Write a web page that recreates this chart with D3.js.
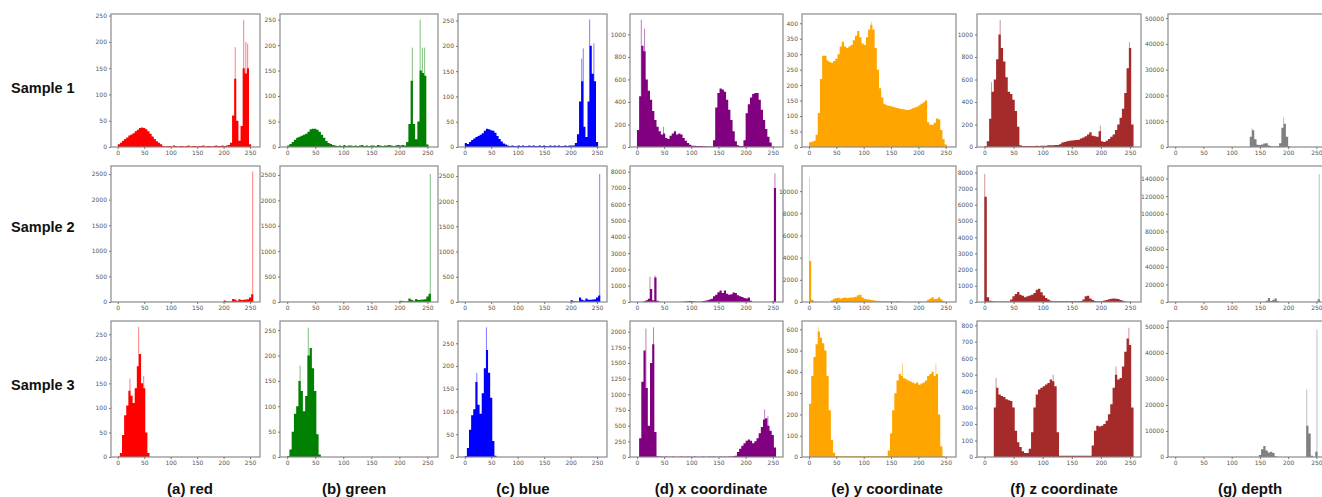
<!DOCTYPE html>
<html>
<head>
<meta charset="utf-8">
<script src="https://cdn.jsdelivr.net/npm/d3@7"></script>
<style>
  body { margin: 0; background: #fff; }
  svg { display: block; }
  .tick text { font-family: "DejaVu Sans", sans-serif; font-size: 6px; fill: #555; }
  .tick line { stroke: #777; }
  .rowlab { font-family: "Liberation Sans", Arial, sans-serif; font-weight: bold; font-size: 14.5px; fill: #111; }
  .coltitle { font-family: "Liberation Sans", Arial, sans-serif; font-weight: bold; font-size: 15px; fill: #111; }
</style>
</head>
<body>
<div id="chart"></div>
<script>
// histogram counts, one value per 4-unit bin (0..255)
var binWidth = 4;
var xTicks = [0, 50, 100, 150, 200, 250];
var rowNames = ["Sample 1", "Sample 2", "Sample 3"];
var colTitles = ["(a) red", "(b) green", "(c) blue", "(d) x coordinate", "(e) y coordinate", "(f) z coordinate", "(g) depth"];
var colors = ["#ff0000", "#008000", "#0000ff", "#800080", "#ffa500", "#a52a2a", "#808080"];

// ---- Sample 1
var red1 = [5,8,12,15,18,22,24,26,30,33,36,37,36,34,30,25,20,15,11,8,5,
  2,1,2,2,1,3,2,1,2,2,1,2,3,1,2,2,1,2,2,3,1,2,2,1,2,3,2,2,3,2,3,4,
  8,60,130,50,12,40,150,140,150,5,0];
var green1 = [3,6,10,14,18,20,22,24,26,30,35,36,36,34,30,24,18,12,8,6,4,
  3,2,3,2,4,2,3,3,2,3,2,3,4,2,3,2,3,3,2,4,3,2,3,3,4,3,2,3,4,3,4,
  3,10,45,130,45,15,50,150,145,140,5,0];
var blue1 = [8,6,10,14,17,20,22,24,27,32,36,35,33,32,28,22,16,11,7,5,3,
  2,3,2,2,3,2,3,2,2,3,2,3,2,2,3,2,3,2,2,3,2,3,2,3,2,2,3,2,3,3,
  3,8,25,90,130,40,20,90,200,145,130,10,0];
var xcoord1 = [150,450,900,850,600,500,420,320,240,180,140,110,120,80,70,100,120,140,110,120,110,80,55,35,20,
  10,10,8,8,8,6,6,5,5,5,
  60,350,480,520,510,490,420,330,240,140,50,15,8,8,60,300,380,440,470,480,480,420,330,240,160,90,40,5,0];
var ycoord1 = [15,17,20,40,110,220,295,295,280,275,272,278,285,300,325,340,325,320,325,330,
  345,360,375,355,335,330,355,380,395,380,320,250,190,160,140,135,133,132,130,128,
  126,124,123,122,120,120,122,125,128,130,135,140,145,150,80,72,72,78,92,90,55,25,8,0];
var zcoord1 = [10,50,250,490,600,780,1000,880,760,620,490,470,420,320,180,15,
  8,9,10,8,9,10,12,10,11,12,12,15,15,15,18,18,25,
  40,45,50,55,58,60,62,65,75,85,95,110,130,100,95,90,140,50,45,55,70,90,110,150,200,260,340,480,700,880,200];
var depth1 = [0,0,0,0,0,0,0,0,0,0,0,0,0,0,0,0,0,0,0,0,0,0,0,0,0,0,0,0,0,0,0,0,0,
  4000,6500,3000,900,800,1000,1400,1500,600,250,200,200,250,1500,7500,9000,4000,300,
  0,0,0,0,0,0,0,0,0,0,0,0,0];

// ---- Sample 2
var red2 = [0,0,0,0,0,0,0,0,0,0,0,0,0,0,0,0,0,0,0,0,0,0,0,0,0,0,0,0,0,0,0,0,0,0,0,0,0,0,0,0,0,0,0,0,0,0,0,0,0,0,
  30,15,8,10,60,50,25,55,40,45,50,55,90,150];
var green2 = [0,0,0,0,0,0,0,0,0,0,0,0,0,0,0,0,0,0,0,0,0,0,0,0,0,0,0,0,0,0,0,0,0,0,0,0,0,0,0,0,0,0,0,0,0,0,0,0,0,0,
  25,20,10,15,70,45,25,60,40,45,50,55,110,160];
var blue2 = [0,0,0,0,0,0,0,0,0,0,0,0,0,0,0,0,0,0,0,0,0,0,0,0,0,0,0,0,0,0,0,0,0,0,0,0,0,0,0,0,0,0,0,0,0,0,0,0,0,0,
  35,15,10,12,90,45,30,70,45,45,50,55,90,130];
var xcoord2 = [0,0,0,40,100,200,800,100,1500,80,15,
  5,5,5,5,5,5,5,5,5,
  20,20,30,40,60,50,30,20,10,20,60,80,100,150,200,350,450,600,700,550,700,500,450,480,580,550,420,350,300,250,220,280,80,
  0,0,0,0,0,0,0,0,0,
  50,7000];
var ycoord2 = [3700,200,40,10,10,10,10,10,10,10,
  150,300,350,380,300,350,400,350,380,400,420,480,600,650,400,300,250,220,180,150,120,100,80,70,60,60,70,60,50,50,80,60,30,20,
  15,15,15,15,15,15,15,15,15,
  50,200,320,420,280,300,420,250,80,10,0];
var zcoord2 = [6500,300,80,40,30,30,30,25,25,25,30,150,350,500,620,450,380,300,350,400,450,550,750,820,600,400,250,150,80,
  45,45,40,45,50,45,40,45,50,45,40,50,
  60,150,350,380,220,120,60,50,50,50,100,130,170,200,210,200,180,130,70,30,20,10,0];
var depth2 = [0,0,0,0,0,0,0,0,0,0,0,0,0,0,0,0,0,0,0,0,0,0,0,0,0,0,0,0,0,0,0,0,0,0,0,0,0,0,0,0,
  1500,4500,1200,2500,4000,800,100,
  0,0,0,0,0,0,0,0,0,0,0,0,0,0,0,0,
  3000];

// ---- Sample 3
var red3 = [1,8,45,85,105,135,125,110,140,185,210,150,140,50,8,
  0,0,0,0,0,0,0,0,0,0,0,0,0,0,0,0,0,0,0,0,0,0,0,0,0,0,0,0,0,0,0,0,0,0,0,0,0,0,0,0,0,0,0,0,0,0,0,0,0];
var green3 = [2,15,50,85,100,150,130,90,120,200,215,175,130,45,5,
  0,0,0,0,0,0,0,0,0,0,0,0,0,0,0,0,0,0,0,0,0,0,0,0,0,0,0,0,0,0,0,0,0,0,0,0,0,0,0,0,0,0,0,0,0,0,0,0,0];
var blue3 = [2,20,60,92,105,165,115,95,140,195,235,185,130,35,3,
  0,0,0,0,0,0,0,0,0,0,0,0,0,0,0,0,0,0,0,0,0,0,0,0,0,0,0,0,0,0,0,0,0,0,0,0,0,0,0,0,0,0,0,0,0,0,0,0,0];
var xcoord3 = [0,300,1200,1700,1100,500,1500,1800,400,10,
  8,6,5,6,5,5,6,5,5,5,6,5,5,6,5,5,6,5,5,5,6,5,5,6,5,6,5,5,6,5,6,5,6,8,10,
  20,80,130,180,220,260,280,260,220,250,300,380,480,600,620,500,420,350,150];
var ycoord3 = [250,380,470,530,590,560,535,500,380,220,80,20,5,
  4,4,3,4,4,3,4,4,3,4,4,4,3,4,4,3,4,4,3,4,4,4,5,
  30,110,220,300,360,390,380,370,365,360,355,350,345,350,340,345,350,360,380,390,400,380,390,200,50,5,0,0];
var zcoord3 = [0,0,0,0,300,420,380,370,365,350,345,340,300,160,90,60,35,25,25,50,150,300,380,410,420,430,440,450,470,460,430,150,
  8,8,8,8,8,8,8,8,8,8,8,8,8,8,
  70,160,190,185,190,200,220,260,320,420,500,470,480,550,640,720,680,300];
var depth3 = [0,0,0,0,0,0,0,0,0,0,0,0,0,0,0,0,0,0,0,0,0,0,0,0,0,0,0,0,0,0,0,0,0,0,0,0,0,
  800,3000,4200,2500,1700,2000,1500,300,
  0,0,0,0,0,0,0,0,0,0,0,0,0,
  12000,9000,500,0,2000,0];

// thin single-bin spikes (drawn pale, like the anti-aliased 1-unit bars): [x, count]
var red1Peaks = [[222,190],[238,242],[242,200],[245.5,197]];
var green1Peaks = [[223,195],[237,250],[241,195],[245,195]];
var blue1Peaks = [[221,175],[224,195],[236,252],[244,205]];
var xcoord1Peaks = [[8,1130],[14,1050],[48.8,180]];
var ycoord1Peaks = [[114,405]];
var zcoord1Peaks = [[12,575],[27,1130],[199,190],[249,930]];
var depth1Peaks = [[136,7200],[192,11500]];
var red2Peaks = [[255,2550]];
var green2Peaks = [[255,2520]];
var blue2Peaks = [[255,2540]];
var xcoord2Peaks = [[24,1550],[33.5,1620],[254,7900]];
var ycoord2Peaks = [[1,11300]];
var zcoord2Peaks = [[0.5,7900]];
var depth2Peaks = [[255,145000]];
var red3Peaks = [[23,160],[39.5,265],[49,165]];
var green3Peaks = [[23,180],[37.6,255]];
var blue3Peaks = [[22.7,185],[41,285]];
var xcoord3Peaks = [[16.5,2050],[30.5,2070],[235,760],[241,650]];
var ycoord3Peaks = [[17,610],[171,440],[232,440]];
var zcoord3Peaks = [[20,480],[118,500],[226,550],[248,785]];
var depth3Peaks = [[233,26000],[251,49000]];

// y tick labels and y axis top, per panel
var yTicks1 = [[0,50,100,150,200,250],[0,50,100,150,200,250],[0,50,100,150,200,250],
  [0,200,400,600,800,1000],[0,50,100,150,200,250,300,350,400],[0,200,400,600,800,1000],
  [0,10000,20000,30000,40000,50000]];
var yTicks2 = [[0,500,1000,1500,2000,2500],[0,500,1000,1500,2000,2500],[0,500,1000,1500,2000,2500],
  [0,1000,2000,3000,4000,5000,6000,7000,8000],[0,2000,4000,6000,8000,10000],
  [0,1000,2000,3000,4000,5000,6000,7000,8000],[0,20000,40000,60000,80000,100000,120000,140000]];
var yTicks3 = [[0,50,100,150,200,250],[0,50,100,150,200,250],[0,50,100,150,200,250],
  [0,250,500,750,1000,1250,1500,1750,2000],[0,100,200,300,400,500,600],
  [0,100,200,300,400,500,600,700,800],[0,10000,20000,30000,40000,50000]];
var yMax1 = [253, 261, 263, 1181, 430, 1182, 51600];
var yMax2 = [2657, 2676, 2697, 8348, 12269, 8394, 154150];
var yMax3 = [277, 268, 299, 2170, 639, 826, 52290];

var rows = [
  { counts: [red1, green1, blue1, xcoord1, ycoord1, zcoord1, depth1],
    peaks: [red1Peaks, green1Peaks, blue1Peaks, xcoord1Peaks, ycoord1Peaks, zcoord1Peaks, depth1Peaks],
    ticks: yTicks1, ymax: yMax1 },
  { counts: [red2, green2, blue2, xcoord2, ycoord2, zcoord2, depth2],
    peaks: [red2Peaks, green2Peaks, blue2Peaks, xcoord2Peaks, ycoord2Peaks, zcoord2Peaks, depth2Peaks],
    ticks: yTicks2, ymax: yMax2 },
  { counts: [red3, green3, blue3, xcoord3, ycoord3, zcoord3, depth3],
    peaks: [red3Peaks, green3Peaks, blue3Peaks, xcoord3Peaks, ycoord3Peaks, zcoord3Peaks, depth3Peaks],
    ticks: yTicks3, ymax: yMax3 }
];

// layout
var W = 1322, H = 497;
var colLeft  = [111, 280, 458, 630, 802, 977, 1168],
    colRight = [260, 438, 607, 783, 956, 1141, 1327];
var rowTop = [14, 166, 321], rowBottom = [147, 302, 457];
var rowLabelY = [93, 232, 390];
var titleX = [190, 354, 523, 711, 887, 1064, 1250];

var svg = d3.select("#chart").append("svg")
    .attr("width", W)
    .attr("height", H);

rows.forEach(function (row, r) {
    svg.append("text")
        .attr("class", "rowlab")
        .attr("x", 11)
        .attr("y", rowLabelY[r])
        .text(rowNames[r]);

    row.counts.forEach(function (counts, c) {
        var xScale = d3.scaleLinear().domain([-12.8, 268.8]).range([colLeft[c], colRight[c]]);
        var yScale = d3.scaleLinear().domain([0, row.ymax[c]]).range([rowBottom[r], rowTop[r]]);
        var g = svg.append("g");

        // bins as one stepped area, so no seams between neighbouring bars
        var pts = counts.map(function (v, i) { return [i * binWidth, v]; });
        pts.push([counts.length * binWidth, 0]);
        var area = d3.area()
            .x(function (d) { return xScale(d[0]); })
            .y0(rowBottom[r])
            .y1(function (d) { return yScale(d[1]); })
            .curve(d3.curveStepAfter);

        g.append("path")
            .datum(pts)
            .attr("d", area)
            .attr("fill", colors[c]);

        // pale single-bin spikes
        g.selectAll("line.peak")
            .data(row.peaks[c])
            .enter().append("line")
            .attr("class", "peak")
            .attr("x1", function (d) { return xScale(d[0]); })
            .attr("x2", function (d) { return xScale(d[0]); })
            .attr("y1", rowBottom[r])
            .attr("y2", function (d) { return yScale(d[1]); })
            .attr("stroke", colors[c])
            .attr("stroke-opacity", 0.5)
            .attr("stroke-width", 1);

        // frame
        g.append("rect")
            .attr("x", colLeft[c])
            .attr("y", rowTop[r])
            .attr("width", colRight[c] - colLeft[c])
            .attr("height", rowBottom[r] - rowTop[r])
            .attr("fill", "none")
            .attr("stroke", "#8a8a8a")
            .attr("stroke-width", 1.2);

        var xAxis = d3.axisBottom(xScale).tickValues(xTicks).tickSize(2).tickPadding(2).tickFormat(d3.format("d"));
        g.append("g")
            .attr("transform", "translate(0," + rowBottom[r] + ")")
            .call(xAxis)
            .select(".domain").remove();

        var yAxis = d3.axisLeft(yScale).tickValues(row.ticks[c]).tickSize(2).tickPadding(2).tickFormat(d3.format("d"));
        g.append("g")
            .attr("transform", "translate(" + colLeft[c] + ",0)")
            .call(yAxis)
            .select(".domain").remove();
    });
});

// column titles
svg.selectAll("text.coltitle")
    .data(colTitles)
    .enter().append("text")
    .attr("class", "coltitle")
    .attr("x", function (d, i) { return titleX[i]; })
    .attr("y", 494)
    .attr("text-anchor", "middle")
    .text(function (d) { return d; });
</script>
</body>
</html>
